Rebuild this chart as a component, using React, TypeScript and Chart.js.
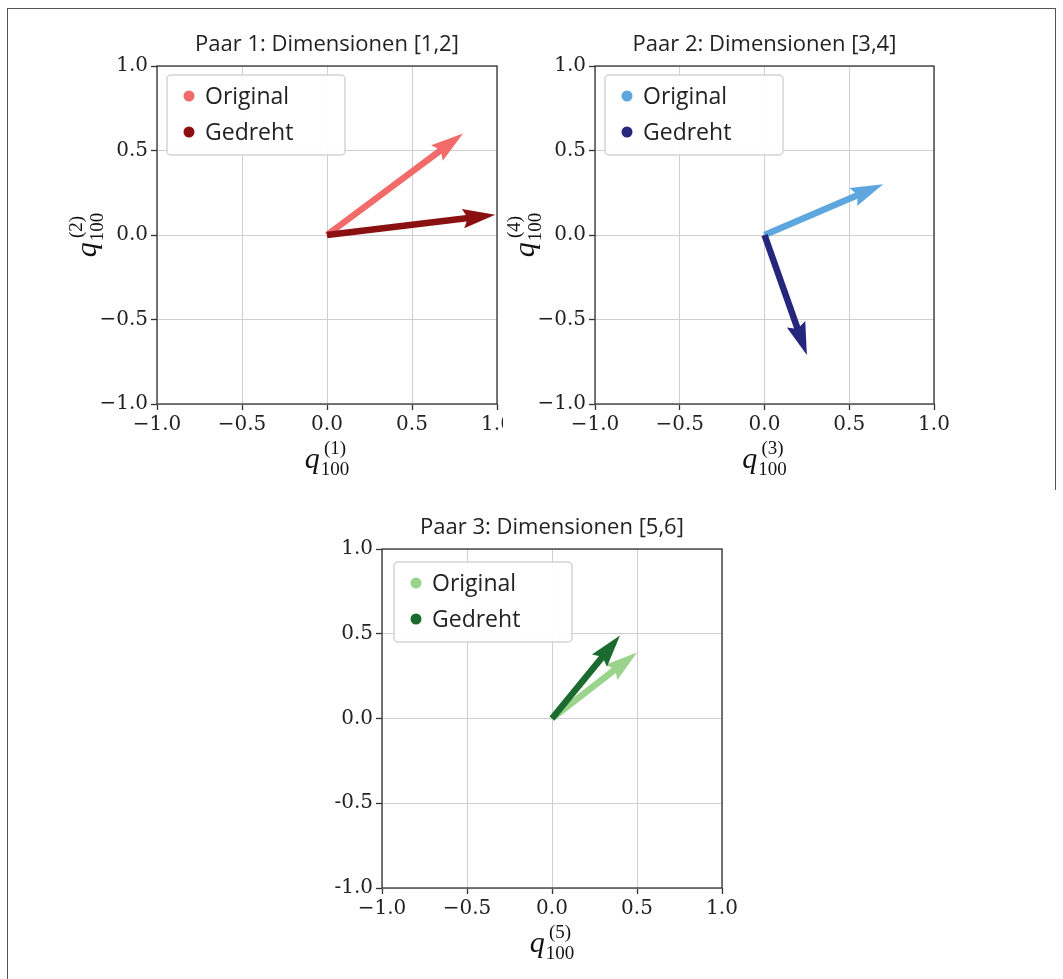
import React, { useEffect, useRef } from "react";
import { Chart, registerables } from "chart.js";

Chart.register(...registerables);

// ---------- data ----------
const tickValues = [-1.0, -0.5, 0.0, 0.5, 1.0];
const tickLabelsMinus = ["−1.0", "−0.5", "0.0", "0.5", "1.0"];
const tickLabelsHyphen = ["-1.0", "-0.5", "0.0", "0.5", "1.0"];
const seriesNames = ["Original", "Gedreht"];
const chartTitles = [
  "Paar 1: Dimensionen [1,2]",
  "Paar 2: Dimensionen [3,4]",
  "Paar 3: Dimensionen [5,6]",
];
// vectors [x, y] drawn from the origin
const pair1Original = [0.8, 0.6];
const pair1Rotated = [0.99, 0.12];
const pair2Original = [0.7, 0.3];
const pair2Rotated = [0.25, -0.71];
const pair3Original = [0.5, 0.39];
const pair3Rotated = [0.4, 0.49];
const pair1Colors = ["#f26b6b", "#8b1012"];
const pair2Colors = ["#5ea7de", "#25267c"];
const pair3Colors = ["#9ad38b", "#1b6b30"];
const xSuperscripts = ["(1)", "(3)", "(5)"];
const ySuperscripts = ["(2)", "(4)", null];

const SERIF = '"DejaVu Serif", "Liberation Serif", serif';
const LSERIF = '"Liberation Serif", "DejaVu Serif", serif';
const SANS = '"Open Sans", "Noto Sans", sans-serif';

type Cfg = {
  title: string;
  orig: number[];
  rot: number[];
  colors: string[];
  xSup: string;
  ySup: string | null;
  xLabels: string[];
  yLabels: string[];
  left: number;
  top: number;
  W: number;
  H: number;
  padTop: number;
  padRight: number;
  yw: number;
  xh: number;
  legDx: number;
  legDy: number;
};

function drawQLabel(
  ctx: CanvasRenderingContext2D,
  x: number,
  y: number,
  sup: string,
  rotated: boolean
) {
  ctx.save();
  ctx.translate(x, y);
  if (rotated) ctx.rotate(-Math.PI / 2);
  ctx.fillStyle = "#111";
  ctx.textBaseline = "alphabetic";
  ctx.textAlign = "left";
  ctx.font = `italic 30px ${LSERIF}`;
  const wq = ctx.measureText("q").width;
  ctx.font = `19px ${LSERIF}`;
  const ws = Math.max(ctx.measureText(sup).width, ctx.measureText("100").width);
  const start = -(wq + 1 + ws) / 2;
  ctx.font = `italic 30px ${LSERIF}`;
  ctx.fillText("q", start, 0);
  ctx.font = `19px ${LSERIF}`;
  const sx = start + wq + 1;
  ctx.fillText(sup, sx + (ws - ctx.measureText(sup).width) / 2, -14);
  ctx.fillText("100", sx, 7);
  ctx.restore();
}

function drawArrow(
  ctx: CanvasRenderingContext2D,
  x0: number,
  y0: number,
  x1: number,
  y1: number,
  color: string
) {
  const dx = x1 - x0;
  const dy = y1 - y0;
  const L = Math.hypot(dx, dy);
  if (L < 1) return;
  const ux = dx / L;
  const uy = dy / L;
  const nx = -uy;
  const ny = ux;
  const w = 6.5;
  const hl = 5 * w;
  const hal = 4.5 * w;
  const hw = 1.5 * w;
  const pts: [number, number][] = [
    [0, -w / 2],
    [L - hal, -w / 2],
    [L - hl, -hw],
    [L, 0],
    [L - hl, hw],
    [L - hal, w / 2],
    [0, w / 2],
  ];
  ctx.save();
  ctx.beginPath();
  pts.forEach(([a, b], i) => {
    const px = x0 + ux * a + nx * b;
    const py = y0 + uy * a + ny * b;
    if (i === 0) ctx.moveTo(px, py);
    else ctx.lineTo(px, py);
  });
  ctx.closePath();
  ctx.fillStyle = color;
  ctx.fill();
  ctx.restore();
}

function makePlugin(cfg: Cfg) {
  return {
    id: "pairDecor",
    beforeDraw(chart: any) {
      const ctx = chart.ctx as CanvasRenderingContext2D;
      ctx.save();
      ctx.fillStyle = "#ffffff";
      ctx.fillRect(0, 0, chart.width, chart.height);
      ctx.restore();
    },
    afterDatasetsDraw(chart: any) {
      const ctx = chart.ctx as CanvasRenderingContext2D;
      const xs = chart.scales.x;
      const ys = chart.scales.y;
      const ca = chart.chartArea;
      // arrows
      chart.data.datasets.forEach((ds: any) => {
        const p0 = ds.data[0];
        const p1 = ds.data[1];
        drawArrow(
          ctx,
          xs.getPixelForValue(p0.x),
          ys.getPixelForValue(p0.y),
          xs.getPixelForValue(p1.x),
          ys.getPixelForValue(p1.y),
          ds.borderColor
        );
      });
      // spines
      ctx.save();
      ctx.strokeStyle = "#333";
      ctx.lineWidth = 1.3;
      ctx.strokeRect(ca.left, ca.top, ca.right - ca.left, ca.bottom - ca.top);
      ctx.restore();
      // legend
      const bx = ca.left + cfg.legDx;
      const by = ca.top + cfg.legDy;
      const bw = 178;
      const bh = 80;
      ctx.save();
      ctx.beginPath();
      (ctx as any).roundRect(bx, by, bw, bh, 4);
      ctx.fillStyle = "rgba(255,255,255,0.92)";
      ctx.fill();
      ctx.strokeStyle = "#d3d3d3";
      ctx.lineWidth = 1.5;
      ctx.stroke();
      chart.data.datasets.forEach((ds: any, i: number) => {
        const cy = by + 21 + i * 36;
        ctx.beginPath();
        ctx.arc(bx + 22, cy, 5.5, 0, Math.PI * 2);
        ctx.fillStyle = ds.borderColor;
        ctx.fill();
        ctx.fillStyle = "#222";
        ctx.font = `23px ${SANS}`;
        ctx.textAlign = "left";
        ctx.textBaseline = "middle";
        ctx.fillText(ds.label, bx + 38, cy + 1);
      });
      ctx.restore();
      // title
      ctx.save();
      ctx.fillStyle = "#222";
      ctx.font = `22px ${SANS}`;
      ctx.textAlign = "center";
      ctx.textBaseline = "middle";
      ctx.fillText(cfg.title, (ca.left + ca.right) / 2, ca.top - 21);
      ctx.restore();
      // axis labels
      drawQLabel(ctx, (ca.left + ca.right) / 2, ca.bottom + 64, cfg.xSup, false);
      if (cfg.ySup) {
        drawQLabel(ctx, ca.left - 61, (ca.top + ca.bottom) / 2, cfg.ySup, true);
      }
    },
  };
}

function axisOptions(labels: string[], fit: (s: any) => void) {
  return {
    type: "linear" as const,
    min: -1,
    max: 1,
    afterBuildTicks: (s: any) => {
      s.ticks = tickValues.map((v) => ({ value: v }));
    },
    afterFit: fit,
    ticks: {
      callback: (_v: any, i: number) => labels[i],
      font: { family: SERIF, size: 20 },
      color: "#222",
      padding: 3,
      maxRotation: 0,
      autoSkip: false,
    },
    grid: {
      color: "#cfcfcf",
      lineWidth: 1,
      drawTicks: true,
      tickLength: 6,
      tickColor: "#333",
      tickWidth: 1.3,
    },
    border: { display: false },
  };
}

function PairChart({ cfg }: { cfg: Cfg }) {
  const ref = useRef<HTMLCanvasElement>(null);
  useEffect(() => {
    if (!ref.current) return;
    const chart = new Chart(ref.current, {
      type: "scatter",
      data: {
        datasets: [
          {
            label: seriesNames[0],
            data: [
              { x: 0, y: 0 },
              { x: cfg.orig[0], y: cfg.orig[1] },
            ],
            borderColor: cfg.colors[0],
            backgroundColor: cfg.colors[0],
            pointRadius: 0,
            showLine: false,
          },
          {
            label: seriesNames[1],
            data: [
              { x: 0, y: 0 },
              { x: cfg.rot[0], y: cfg.rot[1] },
            ],
            borderColor: cfg.colors[1],
            backgroundColor: cfg.colors[1],
            pointRadius: 0,
            showLine: false,
          },
        ],
      },
      options: {
        animation: false,
        responsive: false,
        maintainAspectRatio: false,
        events: [],
        layout: {
          padding: { left: 0, top: cfg.padTop, right: cfg.padRight, bottom: 0 },
        },
        plugins: {
          legend: { display: false },
          title: { display: false },
          tooltip: { enabled: false },
        },
        scales: {
          x: axisOptions(cfg.xLabels, (s: any) => {
            s.height = cfg.xh;
          }) as any,
          y: axisOptions(cfg.yLabels, (s: any) => {
            s.width = cfg.yw;
          }) as any,
        },
      },
      plugins: [makePlugin(cfg)],
    });
    return () => chart.destroy();
  }, []);
  return (
    <canvas
      ref={ref}
      width={cfg.W}
      height={cfg.H}
      style={{
        position: "absolute",
        left: cfg.left,
        top: cfg.top,
        width: cfg.W,
        height: cfg.H,
      }}
    />
  );
}

const configs: Cfg[] = [
  {
    title: chartTitles[0],
    orig: pair1Original,
    rot: pair1Rotated,
    colors: pair1Colors,
    xSup: xSuperscripts[0],
    ySup: ySuperscripts[0],
    xLabels: tickLabelsMinus,
    yLabels: tickLabelsMinus,
    left: 10,
    top: 10,
    W: 507,
    H: 480,
    padTop: 56,
    padRight: 20,
    yw: 147,
    xh: 86,
    legDx: 10,
    legDy: 9,
  },
  {
    title: chartTitles[1],
    orig: pair2Original,
    rot: pair2Rotated,
    colors: pair2Colors,
    xSup: xSuperscripts[1],
    ySup: ySuperscripts[1],
    xLabels: tickLabelsMinus,
    yLabels: tickLabelsMinus,
    left: 503,
    top: 10,
    W: 451,
    H: 480,
    padTop: 56,
    padRight: 20,
    yw: 92,
    xh: 86,
    legDx: 10,
    legDy: 9,
  },
  {
    title: chartTitles[2],
    orig: pair3Original,
    rot: pair3Rotated,
    colors: pair3Colors,
    xSup: xSuperscripts[2],
    ySup: ySuperscripts[2],
    xLabels: tickLabelsMinus,
    yLabels: tickLabelsHyphen,
    left: 230,
    top: 495,
    W: 512,
    H: 484,
    padTop: 54,
    padRight: 20,
    yw: 152,
    xh: 91,
    legDx: 12,
    legDy: 13,
  },
];

export default function App() {
  return (
    <div
      style={{
        position: "absolute",
        left: 0,
        top: 0,
        width: 1063,
        height: 979,
        background: "#ffffff",
        overflow: "hidden",
      }}
    >
      <div
        style={{
          position: "absolute",
          left: 7,
          top: 8,
          width: 0,
          height: 971,
          borderLeft: "1.5px solid #555",
        }}
      />
      <div
        style={{
          position: "absolute",
          left: 7,
          top: 8,
          width: 1048,
          height: 0,
          borderTop: "1.5px solid #555",
        }}
      />
      <div
        style={{
          position: "absolute",
          left: 1055,
          top: 8,
          width: 0,
          height: 482,
          borderLeft: "1.5px solid #555",
        }}
      />
      {configs.map((c, i) => (
        <PairChart key={i} cfg={c} />
      ))}
    </div>
  );
}
